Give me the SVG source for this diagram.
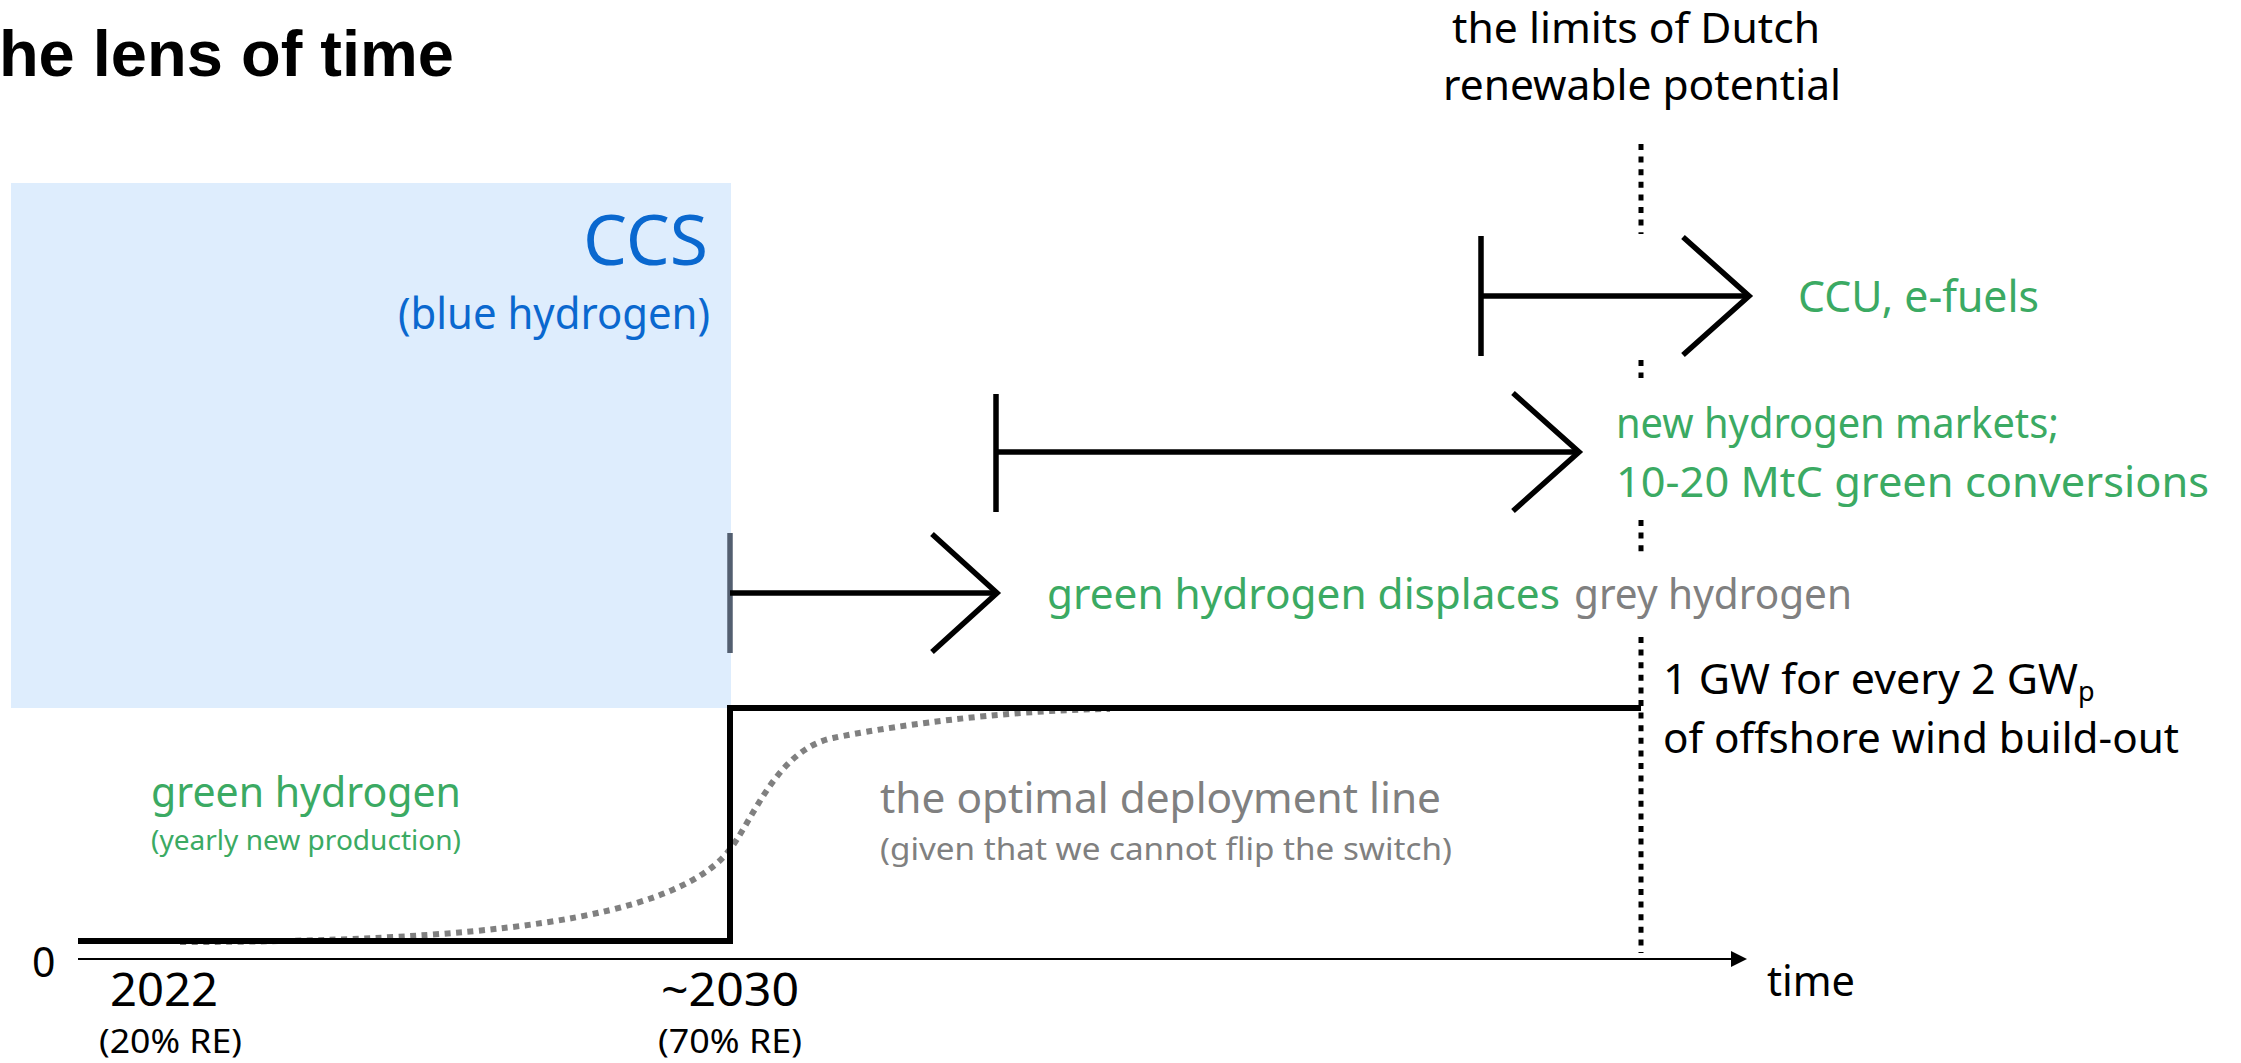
<svg xmlns="http://www.w3.org/2000/svg" width="2241" height="1063" viewBox="0 0 2241 1063">
<style>
.t{font-family:"Noto Sans","Liberation Sans",Arial,sans-serif;}
.title{font-family:"Liberation Sans",Arial,sans-serif;font-weight:bold;font-size:65px;fill:#000;}
.green{fill:#3BAA63;}
.grey{fill:#808080;}
.blue{fill:#0A68CF;}
.black{fill:#000;}
.main{font-size:41px;}
.arrow{stroke:#000;stroke-width:5.5;fill:none;stroke-linejoin:miter;}
.dotv{stroke:#000;stroke-width:5;stroke-dasharray:6 6.6;fill:none;}
</style>
<defs>
<marker id="axisHead" viewBox="0 0 16 16" refX="1" refY="8" markerWidth="16" markerHeight="16" markerUnits="userSpaceOnUse" orient="auto">
<path d="M0,0 L16,8 L0,16 Z" fill="#000"/>
</marker>
</defs>
<rect width="2241" height="1063" fill="#fff"/>

<g id="title">
<text class="title" x="454" y="76" text-anchor="end">he lens of time</text>
</g>

<g id="ccs-box">
<rect x="11" y="183" width="720" height="525" fill="#DEEDFD"/>
<text class="t blue" x="708" y="265" font-size="70" text-anchor="end" textLength="125" lengthAdjust="spacingAndGlyphs">CCS</text>
<text class="t blue" x="398" y="329" font-size="43" textLength="312" lengthAdjust="spacingAndGlyphs">(blue hydrogen)</text>
</g>

<g id="limit-label">
<text class="t black main" x="1452" y="43" textLength="368" lengthAdjust="spacingAndGlyphs">the limits of Dutch</text>
<text class="t black main" x="1443" y="100" textLength="398" lengthAdjust="spacingAndGlyphs">renewable potential</text>
</g>

<g id="ccu-label">
<text class="t green" x="1798" y="312" font-size="43" textLength="241" lengthAdjust="spacingAndGlyphs">CCU, e-fuels</text>
</g>

<g id="markets-label">
<text class="t green main" x="1616" y="438" textLength="443" lengthAdjust="spacingAndGlyphs">new hydrogen markets;</text>
<text class="t green main" x="1616" y="497" textLength="593" lengthAdjust="spacingAndGlyphs">10-20 MtC green conversions</text>
</g>

<g id="displace-label">
<text class="t main" x="1047" y="609"><tspan class="green" textLength="513" lengthAdjust="spacingAndGlyphs">green hydrogen displaces</tspan><tspan class="grey" x="1574" textLength="278" lengthAdjust="spacingAndGlyphs">grey hydrogen</tspan></text>
</g>

<g id="gw-label">
<text class="t black main" x="1663" y="694"><tspan textLength="415" lengthAdjust="spacingAndGlyphs">1 GW for every 2 GW</tspan><tspan font-size="27" dy="7">p</tspan></text>
<text class="t black main" x="1663" y="753" textLength="516" lengthAdjust="spacingAndGlyphs">of offshore wind build-out</text>
</g>

<g id="optimal-label">
<text class="t grey main" x="880" y="813" textLength="561" lengthAdjust="spacingAndGlyphs">the optimal deployment line</text>
<text class="t grey" x="880" y="860" font-size="30" textLength="572" lengthAdjust="spacingAndGlyphs">(given that we cannot flip the switch)</text>
</g>

<g id="green-label">
<text class="t green main" x="151" y="807" textLength="310" lengthAdjust="spacingAndGlyphs">green hydrogen</text>
<text class="t green" x="151" y="850" font-size="28" textLength="310" lengthAdjust="spacingAndGlyphs">(yearly new production)</text>
</g>

<g id="axis-labels">
<text class="t black main" x="32" y="977">0</text>
<text class="t black" x="110" y="1006" font-size="45" textLength="108" lengthAdjust="spacingAndGlyphs">2022</text>
<text class="t black" x="99" y="1053" font-size="32" textLength="143" lengthAdjust="spacingAndGlyphs">(20% RE)</text>
<text class="t black" x="661" y="1006" font-size="45" textLength="138" lengthAdjust="spacingAndGlyphs">~2030</text>
<text class="t black" x="658" y="1053" font-size="32" textLength="144" lengthAdjust="spacingAndGlyphs">(70% RE)</text>
<text class="t black main" x="1767" y="996" textLength="88" lengthAdjust="spacingAndGlyphs">time</text>
</g>

<g id="connectors">
<line x1="78" y1="959" x2="1732" y2="959" stroke="#000" stroke-width="2" marker-end="url(#axisHead)"/>
<path d="M180,942 C480,942 670,920 727,853 C752,824 775,750 833,738 C880,728 1000,710 1110,709" stroke="#808080" stroke-width="6" stroke-dasharray="6 5.5" fill="none"/>
<path d="M78,941 H730 V708 H1641" stroke="#000" stroke-width="6" fill="none"/>
<line class="dotv" x1="1641" y1="144" x2="1641" y2="234"/>
<line class="dotv" x1="1641" y1="360" x2="1641" y2="378"/>
<line class="dotv" x1="1641" y1="520" x2="1641" y2="553"/>
<line class="dotv" x1="1641" y1="637" x2="1641" y2="953"/>
<g id="arrow-green">
<line x1="730" y1="533" x2="730" y2="653" stroke="#535f70" stroke-width="5.5"/>
<line class="arrow" x1="730" y1="593" x2="997" y2="593"/>
<polyline class="arrow" points="932,534 997,593 932,652"/>
</g>
<g id="arrow-markets">
<line class="arrow" x1="996" y1="394" x2="996" y2="512"/>
<line class="arrow" x1="996" y1="452" x2="1579" y2="452"/>
<polyline class="arrow" points="1513,393 1579,452 1513,511"/>
</g>
<g id="arrow-ccu">
<line class="arrow" x1="1481" y1="236" x2="1481" y2="356"/>
<line class="arrow" x1="1481" y1="296" x2="1749" y2="296"/>
<polyline class="arrow" points="1683,237 1749,296 1683,355"/>
</g>
</g>
</svg>
